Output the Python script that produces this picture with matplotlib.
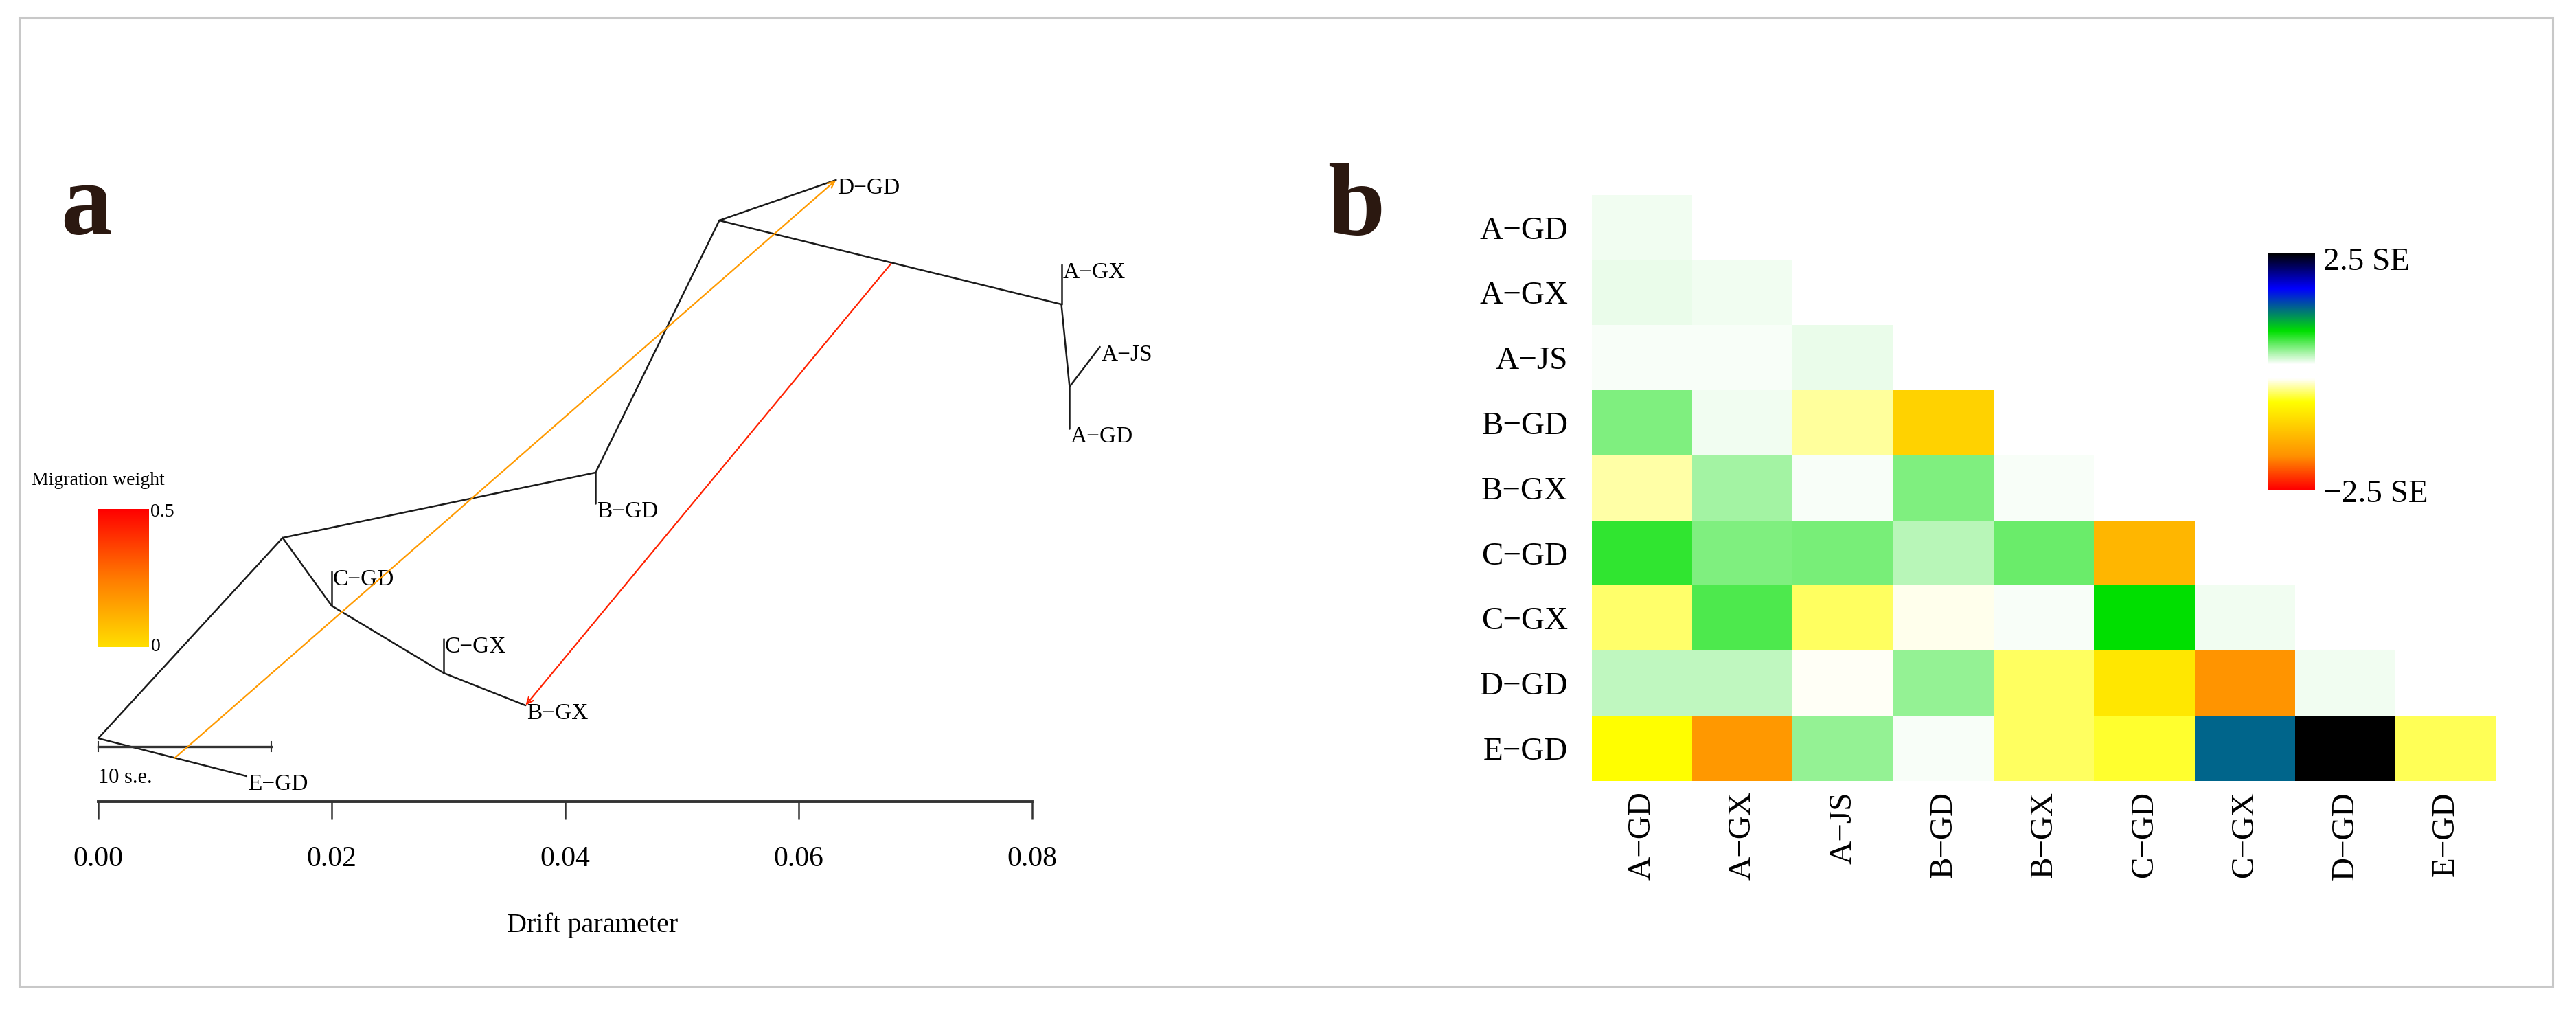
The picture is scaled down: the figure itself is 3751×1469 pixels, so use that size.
import numpy as np
import matplotlib
matplotlib.use('Agg')
import matplotlib.pyplot as plt
from matplotlib.colors import LinearSegmentedColormap
from matplotlib.patches import Rectangle

plt.rcParams['font.family'] = ['Liberation Serif', 'DejaVu Serif']

# ---- data: panel a (treemix tree) ----
node_names = ['root', 'E-GD', 'n1', 'n6', 'C-GD', 'n7', 'C-GX', 'B-GX', 'n2', 'B-GD',
              'n3', 'D-GD', 'n4', 'A-GX', 'n5', 'A-JS', 'A-GD']
node_drift = [0.0, 0.0127, 0.0158, 0.0200, 0.0200, 0.0296, 0.0296, 0.0366, 0.0426, 0.0426,
              0.0532, 0.0632, 0.0825, 0.0825, 0.0832, 0.0858, 0.0832]
node_y = [0.125, 0.070, 0.417, 0.318, 0.368, 0.220, 0.270, 0.173, 0.512, 0.467,
          0.879, 0.938, 0.757, 0.815, 0.637, 0.695, 0.576]
edges = [('root', 'E-GD'), ('root', 'n1'), ('n1', 'n6'), ('n6', 'C-GD'), ('n6', 'n7'),
         ('n7', 'C-GX'), ('n7', 'B-GX'), ('n1', 'n2'), ('n2', 'B-GD'), ('n2', 'n3'),
         ('n3', 'D-GD'), ('n3', 'n4'), ('n4', 'A-GX'), ('n4', 'n5'), ('n5', 'A-JS'),
         ('n5', 'A-GD')]
tips = ['E-GD', 'C-GD', 'C-GX', 'B-GX', 'B-GD', 'D-GD', 'A-GX', 'A-JS', 'A-GD']

# migration edges: start point on a branch, target tip, weight
mig_from_drift = [0.00653, 0.0679]
mig_from_y = [0.096, 0.816]
mig_to = ['D-GD', 'B-GX']
mig_weight = [0.17, 0.43]

drift_ticks = [0.00, 0.02, 0.04, 0.06, 0.08]
scale_bar_len = 0.0148

# ---- data: panel b (residuals, SE units) ----
pops = ['A-GD', 'A-GX', 'A-JS', 'B-GD', 'B-GX', 'C-GD', 'C-GX', 'D-GD', 'E-GD']
nan = np.nan
resid = [
    [0.18, nan, nan, nan, nan, nan, nan, nan, nan],
    [0.21, 0.19, nan, nan, nan, nan, nan, nan, nan],
    [0.16, 0.16, 0.20, nan, nan, nan, nan, nan, nan],
    [0.50, 0.18, -0.35, -1.10, nan, nan, nan, nan, nan],
    [-0.32, 0.41, 0.17, 0.50, 0.17, nan, nan, nan, nan],
    [0.71, 0.50, 0.52, 0.35, 0.55, -1.39, nan, nan, nan],
    [-0.43, 0.64, -0.46, -0.18, 0.17, 0.85, 0.18, nan, nan],
    [0.32, 0.32, -0.16, 0.43, -0.46, -0.89, -1.74, 0.18, nan],
    [-0.65, -1.71, 0.43, 0.17, -0.46, -0.56, 1.33, 2.5, -0.48],
]

W, H = 3751, 1469
fig = plt.figure(figsize=(W / 100, H / 100), dpi=100)


def rect(x0, y0, x1, y1):
    # pixel box (from top-left) -> figure fraction
    return [x0 / W, 1 - y1 / H, (x1 - x0) / W, (y1 - y0) / H]


def lab(s):
    return s.replace('-', '\u2212')


# outer frame
fig.patches.append(Rectangle((28 / W, 1 - 1436 / H), (3717 - 28) / W, (1436 - 26) / H,
                             transform=fig.transFigure, fill=False, ec='#c8c8c8', lw=2.2))

letter_col = '#2b1810'
fig.text(88 / W, 1 - 340 / H, 'a', ha='left', va='baseline', fontsize=108,
         fontweight='bold', color=letter_col)
fig.text(1933 / W, 1 - 342 / H, 'b', ha='left', va='baseline', fontsize=108,
         fontweight='bold', color=letter_col)

# ---- panel a ----
ax = fig.add_axes(rect(143, 200, 1503, 1200))
ax.set_xlim(0, 0.08)
ax.set_ylim(0, 1)
pos = {n: (d, y) for n, d, y in zip(node_names, node_drift, node_y)}

for a, b in edges:
    ax.plot([pos[a][0], pos[b][0]], [pos[a][1], pos[b][1]], color='#1a1a1a',
            lw=1.8, clip_on=False, solid_capstyle='round')

for t in tips:
    ax.text(pos[t][0] + 0.0001, pos[t][1] - 0.012, lab(t), ha='left', va='center',
            fontsize=24, clip_on=False)

mig_cmap = LinearSegmentedColormap.from_list('mig', ['#ffdf00', '#ff7a00', '#ff0000'])
for fd, fy, to, w in zip(mig_from_drift, mig_from_y, mig_to, mig_weight):
    c = mig_cmap(w / 0.5)
    ax.annotate('', xy=pos[to], xytext=(fd, fy),
                arrowprops=dict(arrowstyle='->,head_length=0.7,head_width=0.3',
                                color=c, lw=1.6, shrinkA=0, shrinkB=0),
                annotation_clip=False)

# scale bar
sb_y = 0.113
ax.plot([0, scale_bar_len], [sb_y, sb_y], color='#333333', lw=2.4, clip_on=False)
for xx in [0, scale_bar_len]:
    ax.plot([xx, xx], [sb_y - 0.007, sb_y + 0.007], color='#333333', lw=1.5, clip_on=False)
ax.text(0, 0.068, '10 s.e.', ha='left', va='center', fontsize=22)

for s in ['top', 'right', 'left']:
    ax.spines[s].set_visible(False)
ax.spines['bottom'].set_position(('data', 0.033))
ax.spines['bottom'].set_bounds(0, 0.08)
ax.spines['bottom'].set_linewidth(2.8)
ax.spines['bottom'].set_color('#333333')
ax.set_yticks([])
ax.set_xticks(drift_ticks)
ax.set_xticklabels(['%.2f' % v for v in drift_ticks])
ax.tick_params(axis='x', length=18.7, width=1.8, color='#333333', pad=28, labelsize=30)
ax.set_xlabel('Drift parameter', fontsize=29)
ax.xaxis.set_label_coords(0.529, -0.128)
ax.patch.set_alpha(0)

# migration weight legend
lax = fig.add_axes(rect(143, 741, 217, 942))
lax.imshow(np.linspace(0, 1, 256).reshape(-1, 1), cmap=mig_cmap, aspect='auto',
           origin='lower')
lax.axis('off')
fig.text(143 / W, 1 - 699 / H, 'Migration weight', ha='center', va='center', fontsize=20)
fig.text(219 / W, 1 - 746 / H, '0.5', ha='left', va='center', fontsize=20)
fig.text(220 / W, 1 - 941 / H, '0', ha='left', va='center', fontsize=20)

# ---- panel b ----
res_cmap = LinearSegmentedColormap.from_list('res', [
    (0.00, '#ff0000'), (0.14, '#ff9000'), (0.37, '#ffff00'), (0.47, '#ffffff'),
    (0.53, '#ffffff'), (0.67, '#00e000'), (0.85, '#0000ff'), (1.00, '#000000')])
res_cmap.set_bad('white', 0)

hax = fig.add_axes(rect(2318, 284, 3635, 1137))
hax.imshow(np.ma.masked_invalid(np.array(resid)), cmap=res_cmap, vmin=-2.5, vmax=2.5,
           extent=(0, 9, 9, 0), aspect='auto', interpolation='nearest')
hax.set_xlim(0, 9)
hax.set_ylim(9, 0)
hax.set_xticks(np.arange(9) + 0.5)
hax.set_xticklabels([lab(p) for p in pops], rotation=90)
hax.set_yticks(np.arange(9) + 0.5)
hax.set_yticklabels([lab(p) for p in pops])
hax.tick_params(axis='x', length=0, labelsize=34, pad=11)
hax.tick_params(axis='y', length=0, labelsize=34, pad=25)
for s in hax.spines.values():
    s.set_visible(False)

cax = fig.add_axes(rect(3303, 368, 3371, 713))
cax.imshow(np.linspace(-2.5, 2.5, 256).reshape(-1, 1), cmap=res_cmap, vmin=-2.5,
           vmax=2.5, aspect='auto', origin='lower')
cax.axis('off')
fig.text(3383 / W, 1 - 382 / H, '2.5 SE', ha='left', va='center', fontsize=34)
fig.text(3383 / W, 1 - 720 / H, '\u22122.5 SE', ha='left', va='center', fontsize=34)

fig.savefig('out.png', dpi=100)
